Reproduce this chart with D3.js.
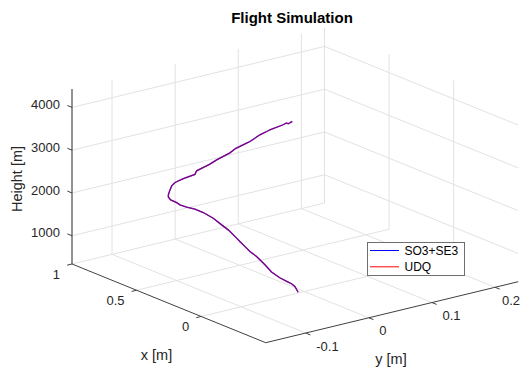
<!DOCTYPE html>
<html>
<head>
<meta charset="utf-8">
<script src="https://cdn.jsdelivr.net/npm/d3@7"></script>
<style>
  body { margin: 0; background: #fff; }
  text { font-family: Arial, "Liberation Sans", Helvetica, sans-serif; fill: #262626; }
</style>
</head>
<body>
<div id="chart"></div>
<script>
// axis limits (x runs from the back corner to the front corner)
const xLim = [1, -0.5];
const yLim = [-0.1634, 0.2366];
const zLim = [340, 4430];
const xTicks = [1, 0.5, 0];
const yTicks = [-0.1, 0, 0.1, 0.2];
const zTicks = [1000, 2000, 3000, 4000];
const seriesNames = ['SO3+SE3', 'UDQ'];

// trajectory (takeoff -> top)
const so3X = [-0.050, -0.025, 0.001, 0.027, 0.092, 0.156, 0.207, 0.246, 0.272, 0.323, 0.349, 0.401,
  0.426, 0.491, 0.542, 0.607, 0.685, 0.749, 0.813, 0.865, 0.890, 0.937, 0.955, 0.955, 0.947, 0.942,
  0.929, 0.903, 0.839, 0.749, 0.736, 0.671, 0.633, 0.581, 0.555, 0.478, 0.432, 0.349, 0.323, 0.246,
  0.182, 0.169, 0.066, 0.040, 0.027, -0.005, 0.014];
const so3Y = [-0.02, -0.02, -0.02, -0.02, -0.02, -0.02, -0.02, -0.02, -0.02, -0.02, -0.02, -0.02,
  -0.02, -0.02, -0.02, -0.02, -0.02, -0.02, -0.02, -0.02, -0.02, -0.02, -0.02, -0.02, -0.02, -0.02,
  -0.02, -0.02, -0.02, -0.02, -0.02, -0.02, -0.02, -0.02, -0.02, -0.02, -0.02, -0.02, -0.02, -0.02,
  -0.02, -0.02, -0.02, -0.02, -0.02, -0.02, -0.02];
const so3Z = [457, 561, 593, 600, 622, 676, 783, 852, 898, 951, 999, 1089,
  1137, 1251, 1305, 1382, 1418, 1418, 1386, 1376, 1398, 1404, 1452, 1498, 1585, 1631,
  1741, 1854, 2022, 2231, 2330, 2509, 2613, 2777, 2848, 3067, 3229, 3453, 3521, 3773,
  3946, 3985, 4229, 4301, 4300, 4393, 4339];
// UDQ overlays SO3+SE3 at this scale
const udqX = so3X.slice();
const udqY = so3Y.slice();
const udqZ = so3Z.slice();

const width = 521, height = 367;
const origin = [72, 264];      // x = 1, y = ymin, z = zmin
const vx = [193.7, 78.7];
const vy = [252.5, -61];
const vz = [0, -175];

let xScale = d3.scaleLinear().domain(xLim).range([0, 1]);
let yScale = d3.scaleLinear().domain(yLim).range([0, 1]);
let zScale = d3.scaleLinear().domain(zLim).range([0, 1]);

// unit box coords -> screen
function box(u, v, w) {
  return [origin[0] + u * vx[0] + v * vy[0] + w * vz[0],
          origin[1] + u * vx[1] + v * vy[1] + w * vz[1]];
}
function proj(x, y, z) { return box(xScale(x), yScale(y), zScale(z)); }

let svg = d3.select('#chart').append('svg')
  .attr('width', width)
  .attr('height', height);

function seg(g, a, b, color, w) {
  g.append('line')
    .attr('x1', a[0]).attr('y1', a[1])
    .attr('x2', b[0]).attr('y2', b[1])
    .attr('stroke', color)
    .attr('stroke-width', w || 1);
}

// grid on back walls and floor
let grid = svg.append('g').attr('class', 'grid');
const gridColor = '#e2e2e2';
zTicks.forEach(t => {
  let w = zScale(t);
  seg(grid, box(0, 0, w), box(0, 1, w), gridColor);
  seg(grid, box(0, 1, w), box(1, 1, w), gridColor);
});
yTicks.forEach(t => {
  let v = yScale(t);
  seg(grid, box(0, v, 0), box(0, v, 1), gridColor);
  seg(grid, box(0, v, 0), box(1, v, 0), gridColor);
});
xTicks.forEach(t => {
  let u = xScale(t);
  seg(grid, box(u, 1, 0), box(u, 1, 1), gridColor);
  seg(grid, box(u, 0, 0), box(u, 1, 0), gridColor);
});

// axes
let axes = svg.append('g').attr('class', 'axes');
const axisColor = '#404040';
seg(axes, box(0, 0, 0), box(0, 0, 1), '#262626');
seg(axes, box(0, 0, 0), box(1, 0, 0), axisColor);
seg(axes, box(1, 0, 0), box(1, 1, 0), axisColor);

const lenVx = Math.hypot(vx[0], vx[1]), lenVy = Math.hypot(vy[0], vy[1]);
const ux = [vx[0] / lenVx, vx[1] / lenVx], uy = [vy[0] / lenVy, vy[1] / lenVy];

zTicks.forEach(t => {
  let p = box(0, 0, zScale(t));
  seg(axes, p, [p[0] - 5 * ux[0], p[1] - 5 * ux[1]], axisColor);
  axes.append('text')
    .attr('x', p[0] - 12).attr('y', p[1] - 3)
    .attr('dy', '0.35em')
    .style('text-anchor', 'end')
    .style('font-size', '13px')
    .text(d3.format('d')(t));
});
xTicks.forEach(t => {
  let p = box(xScale(t), 0, 0);
  seg(axes, p, [p[0] - 5 * uy[0], p[1] - 5 * uy[1]], axisColor);
  axes.append('text')
    .attr('x', p[0] - 12).attr('y', p[1] + 10.3)
    .attr('dy', '0.35em')
    .style('text-anchor', 'end')
    .style('font-size', '13px')
    .text(t);
});
yTicks.forEach(t => {
  let p = box(1, yScale(t), 0);
  seg(axes, p, [p[0] + 5 * ux[0], p[1] + 5 * ux[1]], axisColor);
  // last label sits at the page edge; keep it inside
  let lx = Math.min(p[0] + 10.5, width - 19);
  axes.append('text')
    .attr('x', lx).attr('y', p[1] + 13)
    .attr('dy', '0.35em')
    .style('text-anchor', 'start')
    .style('font-size', '13px')
    .text(t);
});

// axis labels + title
svg.append('text')
  .attr('transform', 'translate(17,179) rotate(-90)')
  .attr('dy', '0.35em')
  .style('text-anchor', 'middle')
  .style('font-size', '14.5px')
  .text('Height [m]');
svg.append('text')
  .attr('x', 156.5).attr('y', 354.5)
  .attr('dy', '0.35em')
  .style('text-anchor', 'middle')
  .style('font-size', '14.5px')
  .text('x [m]');
svg.append('text')
  .attr('x', 391).attr('y', 359)
  .attr('dy', '0.35em')
  .style('text-anchor', 'middle')
  .style('font-size', '14.5px')
  .text('y [m]');
svg.append('text')
  .attr('x', 292).attr('y', 23)
  .style('text-anchor', 'middle')
  .style('font-size', '15px')
  .style('font-weight', 'bold')
  .style('fill', '#000')
  .text('Flight Simulation');

// trajectories
function points(xs, ys, zs) {
  return xs.map((x, i) => ({ x: x, y: ys[i], z: zs[i] }));
}
let line = d3.line()
  .x(d => proj(d.x, d.y, d.z)[0])
  .y(d => proj(d.x, d.y, d.z)[1]);

svg.append('path')
  .datum(points(so3X, so3Y, so3Z))
  .attr('d', line)
  .attr('fill', 'none')
  .attr('stroke', '#0000ff')
  .attr('stroke-width', 1.3);
svg.append('path')
  .datum(points(udqX, udqY, udqZ))
  .attr('d', line)
  .attr('fill', 'none')
  .attr('stroke', '#ff0000')
  .attr('stroke-opacity', 0.5)
  .attr('stroke-width', 1.3);

// legend
let legend = svg.append('g').attr('transform', 'translate(367,242)');
legend.append('rect')
  .attr('x', 0.5).attr('y', 0.5)
  .attr('width', 97).attr('height', 33)
  .attr('fill', '#fff')
  .attr('stroke', '#6e6e6e');
['#0000ff', '#ff0000'].forEach((c, i) => {
  let y = 8.5 + i * 16.3;
  legend.append('line')
    .attr('x1', 3).attr('x2', 32)
    .attr('y1', y).attr('y2', y)
    .attr('stroke', c);
  legend.append('text')
    .attr('x', 37.5).attr('y', y)
    .attr('dy', '0.35em')
    .style('font-size', '12px')
    .style('fill', '#000')
    .text(seriesNames[i]);
});
</script>
</body>
</html>
